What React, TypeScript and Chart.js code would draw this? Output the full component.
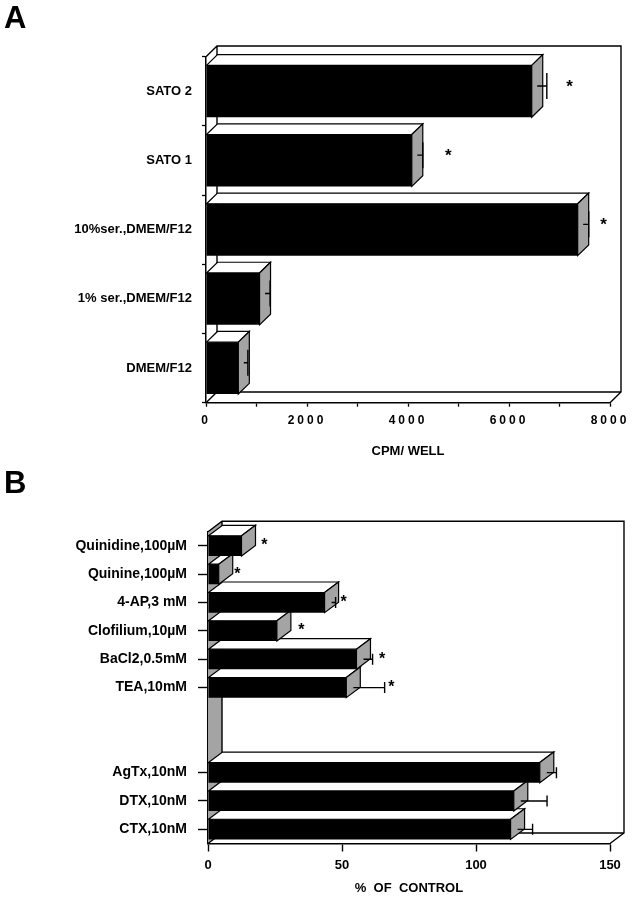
import React, { useEffect, useRef } from 'react';
import { Chart, registerables } from 'chart.js';

Chart.register(...registerables);

const FONT = "'Liberation Sans', Arial, Helvetica, sans-serif";

// ---------- Panel A data ----------
const categoriesA = ['SATO 2', 'SATO 1', '10%ser.,DMEM/F12', '1% ser.,DMEM/F12', 'DMEM/F12'];
const valuesA = [6450, 4075, 7360, 1060, 640];
const errorsA = [190, 110, 110, 100, 80];
const starsA = [7200, 4800, 7870, null, null];
const tickLabelsA = [0, 2000, 4000, 6000, 8000];
const titleA = 'CPM/ WELL';

// ---------- Panel B data ----------
const categoriesB = [
  'Quinidine,100µM',
  'Quinine,100µM',
  '4-AP,3 mM',
  'Clofilium,10µM',
  'BaCl2,0.5mM',
  'TEA,10mM',
  '',
  '',
  'AgTx,10nM',
  'DTX,10nM',
  'CTX,10nM',
];
const valuesB = [12.5, 4, 43.5, 25.7, 55.4, 51.6, null, null, 123.8, 114.1, 112.9];
const errorsB = [0, 0, 1.5, 0, 3.4, 11.7, null, null, 3.6, 9.8, 5.6];
const starsB = [21, 11, 50.6, 34.8, 65, 68.4, null, null, null, null, null];
const tickLabelsB = [0, 50, 100, 150];
const titleB = '%  OF  CONTROL';

type Look = {
  dx: number;
  dy: number;
  side: string;
  wall: string | null;
  errAtSide: boolean;
  capHalf: number;
  starSize: number;
  starDy: number;
  tickSpacing: string | null;
};

function bar3d(look: Look, values: (number | null)[], errors: (number | null)[], stars: (number | null)[]) {
  return {
    id: 'bar3d',
    beforeDatasetsDraw(chart: any) {
      const { ctx, chartArea } = chart;
      const { left, right, top, bottom } = chartArea;
      const { dx, dy } = look;
      ctx.save();
      ctx.lineWidth = 1.4;
      ctx.strokeStyle = '#000';
      ctx.lineJoin = 'miter';
      // left wall
      if (look.wall) {
        ctx.beginPath();
        ctx.moveTo(left, top);
        ctx.lineTo(left + dx, top + dy);
        ctx.lineTo(left + dx, bottom + dy);
        ctx.lineTo(left, bottom);
        ctx.closePath();
        ctx.fillStyle = look.wall;
        ctx.fill();
      }
      // back frame + floor
      ctx.beginPath();
      ctx.moveTo(left, top);
      ctx.lineTo(left + dx, top + dy);
      ctx.lineTo(right + dx, top + dy);
      ctx.lineTo(right + dx, bottom + dy);
      ctx.lineTo(right, bottom);
      ctx.moveTo(left, bottom);
      ctx.lineTo(left + dx, bottom + dy);
      ctx.lineTo(right + dx, bottom + dy);
      ctx.moveTo(left + dx, top + dy);
      ctx.lineTo(left + dx, bottom + dy);
      ctx.stroke();

      // top + side faces, from the lowest bar up
      const meta = chart.getDatasetMeta(0);
      for (let i = meta.data.length - 1; i >= 0; i--) {
        if (values[i] == null) continue;
        const el = meta.data[i];
        const { x, y, base, height } = el.getProps(['x', 'y', 'base', 'height'], true);
        const t = y - height / 2;
        const b = y + height / 2;
        ctx.lineWidth = 1.2;
        ctx.beginPath();
        ctx.moveTo(base, t);
        ctx.lineTo(base + dx, t + dy);
        ctx.lineTo(x + dx, t + dy);
        ctx.lineTo(x, t);
        ctx.closePath();
        ctx.fillStyle = '#fff';
        ctx.fill();
        ctx.stroke();
        ctx.beginPath();
        ctx.moveTo(x, t);
        ctx.lineTo(x + dx, t + dy);
        ctx.lineTo(x + dx, b + dy);
        ctx.lineTo(x, b);
        ctx.closePath();
        ctx.fillStyle = look.side;
        ctx.fill();
        ctx.stroke();
      }
      ctx.restore();
    },
    afterDatasetsDraw(chart: any) {
      const { ctx } = chart;
      const xs = chart.scales.x;
      const meta = chart.getDatasetMeta(0);
      ctx.save();
      ctx.strokeStyle = '#000';
      ctx.lineWidth = 1.4;
      for (let i = 0; i < meta.data.length; i++) {
        const v = values[i];
        if (v == null) continue;
        const el = meta.data[i];
        const { x, y } = el.getProps(['x', 'y'], true);
        const e = errors[i];
        if (e) {
          const yy = look.errAtSide ? y + look.dy / 2 : y;
          const x0 = x + look.dx / 2;
          const x1 = xs.getPixelForValue(v + e) + look.dx / 2;
          ctx.beginPath();
          ctx.moveTo(x0, yy);
          ctx.lineTo(x1, yy);
          ctx.moveTo(x1, yy - look.capHalf);
          ctx.lineTo(x1, yy + look.capHalf);
          ctx.stroke();
        }
        const s = stars[i];
        if (s != null) {
          ctx.font = `bold ${look.starSize}px ${FONT}`;
          ctx.fillStyle = '#000';
          ctx.textAlign = 'center';
          ctx.textBaseline = 'alphabetic';
          const m = ctx.measureText('*');
          const yc = y + look.starDy;
          const by = yc + (m.actualBoundingBoxAscent - m.actualBoundingBoxDescent) / 2;
          ctx.fillText('*', xs.getPixelForValue(s), by);
        }
      }
      ctx.restore();
      if (look.tickSpacing) ctx.letterSpacing = look.tickSpacing;
    },
    afterDraw(chart: any) {
      chart.ctx.letterSpacing = '0px';
    },
  };
}

function ChartA() {
  const ref = useRef<HTMLCanvasElement>(null);
  useEffect(() => {
    const look: Look = {
      dx: 11,
      dy: -10.7,
      side: '#a4a4a4',
      wall: null,
      errAtSide: true,
      capHalf: 13,
      starSize: 17,
      starDy: -8,
      tickSpacing: '3px',
    };
    const chart = new Chart(ref.current as HTMLCanvasElement, {
      type: 'bar',
      data: {
        labels: categoriesA,
        datasets: [
          {
            data: valuesA,
            backgroundColor: '#000',
            borderWidth: 0,
            barPercentage: 0.75,
            categoryPercentage: 1,
          },
        ],
      },
      options: {
        indexAxis: 'y',
        responsive: false,
        animation: false,
        layout: { padding: { top: 56.7, right: 22, left: 0, bottom: 0 } },
        plugins: { legend: { display: false }, tooltip: { enabled: false } },
        scales: {
          x: {
            type: 'linear',
            min: 0,
            max: 8000,
            ticks: {
              stepSize: 1000,
              autoSkip: false,
              maxRotation: 0,
              padding: 7,
              color: '#000',
              z: 1,
              font: { family: FONT, size: 12, weight: 'bold' },
              callback: (v: any) => (tickLabelsA.includes(Number(v)) ? String(v) : ''),
            },
            grid: { drawOnChartArea: false, drawTicks: true, tickLength: 4, tickColor: '#000', tickWidth: 1.3 },
            border: { display: true, color: '#000', width: 1.5 },
            title: {
              display: true,
              text: titleA,
              color: '#000',
              font: { family: FONT, size: 13, weight: 'bold' },
              padding: { top: 0, bottom: 11 },
            },
            afterFit: (s: any) => {
              s.height = 67.3;
            },
          },
          y: {
            ticks: { padding: 10, color: '#000', autoSkip: false, font: { family: FONT, size: 13, weight: 'bold' } },
            grid: { drawOnChartArea: false, tickLength: 4, tickColor: '#000', tickWidth: 1.3, offset: true },
            border: { display: true, color: '#000', width: 1.5 },
            afterFit: (s: any) => {
              s.width = 206;
            },
          },
        },
      } as any,
      plugins: [bar3d(look, valuesA, errorsA, starsA)],
    });
    return () => chart.destroy();
  }, []);
  return (
    <canvas
      ref={ref}
      width={632}
      height={470}
      style={{ position: 'absolute', left: 0, top: 0, display: 'block' }}
    />
  );
}

function ChartB() {
  const ref = useRef<HTMLCanvasElement>(null);
  useEffect(() => {
    const look: Look = {
      dx: 14,
      dy: -10.5,
      side: '#a4a4a4',
      wall: '#a4a4a4',
      errAtSide: false,
      capHalf: 5.5,
      starSize: 16,
      starDy: -4,
      tickSpacing: null,
    };
    const chart = new Chart(ref.current as HTMLCanvasElement, {
      type: 'bar',
      data: {
        labels: categoriesB,
        datasets: [
          {
            data: valuesB,
            backgroundColor: '#000',
            borderWidth: 0,
            barPercentage: 0.71,
            categoryPercentage: 1,
          },
        ],
      },
      options: {
        indexAxis: 'y',
        responsive: false,
        animation: false,
        layout: { padding: { top: 61.7, right: 22, left: 0, bottom: 0 } },
        plugins: { legend: { display: false }, tooltip: { enabled: false } },
        scales: {
          x: {
            type: 'linear',
            min: 0,
            max: 150,
            ticks: {
              stepSize: 50,
              autoSkip: false,
              maxRotation: 0,
              padding: 6.5,
              color: '#000',
              font: { family: FONT, size: 13, weight: 'bold' },
              callback: (v: any) => (tickLabelsB.includes(Number(v)) ? String(v) : ''),
            },
            grid: { drawOnChartArea: false, drawTicks: true, tickLength: 8, tickColor: '#000', tickWidth: 1.4 },
            border: { display: true, color: '#000', width: 1.5 },
            title: {
              display: true,
              text: titleB,
              color: '#000',
              font: { family: FONT, size: 13, weight: 'bold' },
              padding: { top: 0, bottom: 4 },
            },
            afterFit: (s: any) => {
              s.height = 56.5;
            },
          },
          y: {
            ticks: { padding: 11, color: '#000', autoSkip: false, font: { family: FONT, size: 14, weight: 'bold' } },
            grid: {
              drawOnChartArea: false,
              tickLength: 10,
              tickColor: (c: any) => (categoriesB[c.index] ? '#000' : 'rgba(0,0,0,0)'),
              tickWidth: 1.4,
              offset: false,
            },
            border: { display: true, color: '#000', width: 1.5 },
            afterFit: (s: any) => {
              s.width = 208;
            },
          },
        },
      } as any,
      plugins: [bar3d(look, valuesB, errorsB, starsB)],
    });
    return () => chart.destroy();
  }, []);
  return (
    <canvas
      ref={ref}
      width={632}
      height={430}
      style={{ position: 'absolute', left: 0, top: 470, display: 'block' }}
    />
  );
}

const letterStyle: React.CSSProperties = {
  position: 'absolute',
  fontFamily: FONT,
  fontWeight: 'bold',
  fontSize: '31px',
  lineHeight: '31px',
  color: '#000',
  margin: 0,
};

export default function App() {
  return (
    <div style={{ position: 'absolute', left: 0, top: 0, width: 632, height: 900, background: '#fff' }}>
      <ChartA />
      <ChartB />
      <div style={{ ...letterStyle, left: 4, top: 2 }}>A</div>
      <div style={{ ...letterStyle, left: 4, top: 467 }}>B</div>
    </div>
  );
}
